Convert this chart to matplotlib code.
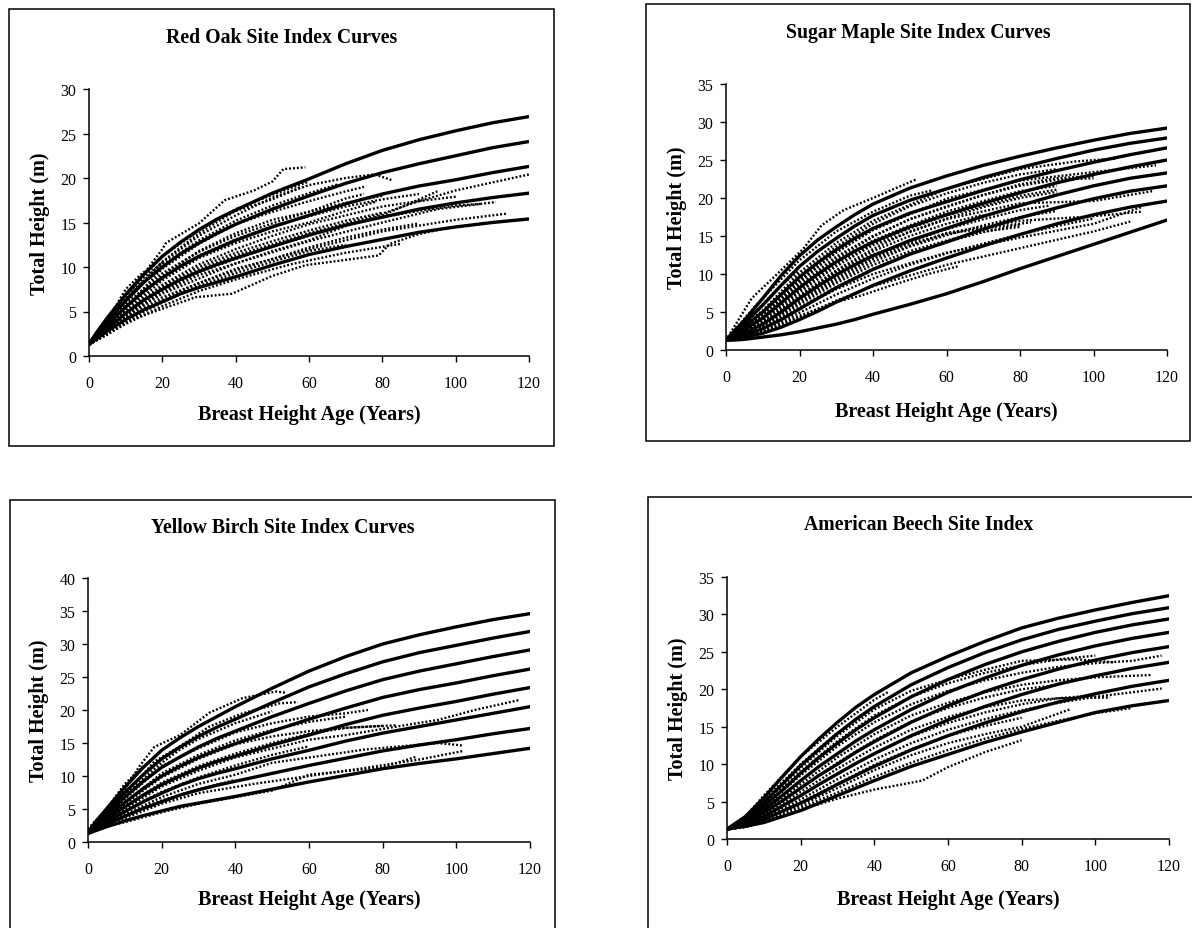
import matplotlib
matplotlib.use("Agg")
import matplotlib.pyplot as plt
from matplotlib.patches import Rectangle

plt.rcParams['font.family'] = ['Liberation Serif', 'DejaVu Serif']

W, H = 1192, 929

# ---------------- data ----------------
AGES = [0, 2, 5, 10, 15, 20, 25, 30, 35, 40, 50, 60, 70, 80, 90, 100, 110, 120]

# Red Oak site index curves (total height, m, at AGES)
ro_curves = [
    [1.3, 2.6, 4.3, 6.9, 9.2, 11.2, 12.8, 14.2, 15.4, 16.4, 18.3, 19.9, 21.6, 23.1, 24.3, 25.3, 26.2, 26.9],
    [1.3, 2.4, 3.9, 6.2, 8.3, 10.0, 11.5, 12.7, 13.8, 14.8, 16.5, 18.0, 19.4, 20.6, 21.6, 22.5, 23.4, 24.1],
    [1.3, 2.2, 3.5, 5.5, 7.3, 8.8, 10.1, 11.2, 12.1, 13.0, 14.5, 15.8, 17.1, 18.2, 19.1, 19.8, 20.6, 21.3],
    [1.3, 2.1, 3.1, 4.8, 6.3, 7.5, 8.6, 9.5, 10.3, 11.0, 12.3, 13.6, 14.7, 15.6, 16.5, 17.2, 17.8, 18.3],
    [1.3, 1.9, 2.8, 4.1, 5.2, 6.1, 7.0, 7.7, 8.3, 8.9, 10.2, 11.4, 12.3, 13.1, 13.9, 14.5, 15.0, 15.4],
]
# Sugar maple
sm_curves = [
    [1.3, 2.4, 3.9, 6.8, 9.8, 12.4, 14.5, 16.2, 17.8, 19.2, 21.3, 22.9, 24.3, 25.5, 26.6, 27.6, 28.5, 29.2],
    [1.3, 2.2, 3.5, 5.9, 8.5, 11.0, 13.0, 14.7, 16.3, 17.7, 19.7, 21.2, 22.7, 24.0, 25.2, 26.3, 27.2, 27.9],
    [1.3, 2.0, 3.1, 5.0, 7.3, 9.6, 11.5, 13.2, 14.7, 16.0, 18.0, 19.5, 21.0, 22.4, 23.6, 24.7, 25.7, 26.6],
    [1.3, 1.9, 2.7, 4.2, 6.2, 8.2, 10.0, 11.6, 13.0, 14.2, 16.2, 17.8, 19.3, 20.7, 22.0, 23.1, 24.1, 25.0],
    [1.3, 1.7, 2.3, 3.4, 5.0, 6.8, 8.4, 9.9, 11.2, 12.4, 14.4, 16.0, 17.6, 19.0, 20.4, 21.6, 22.6, 23.3],
    [1.3, 1.6, 2.0, 2.8, 4.0, 5.4, 6.8, 8.2, 9.4, 10.6, 12.6, 14.2, 15.9, 17.4, 18.7, 19.9, 20.9, 21.6],
    [1.3, 1.4, 1.7, 2.2, 3.0, 4.0, 5.1, 6.3, 7.4, 8.5, 10.4, 12.1, 13.7, 15.2, 16.6, 17.8, 18.8, 19.6],
    [1.3, 1.3, 1.4, 1.7, 2.0, 2.4, 2.9, 3.4, 4.0, 4.7, 6.0, 7.4, 9.0, 10.7, 12.3, 13.9, 15.5, 17.1],
]
# Yellow birch
yb_curves = [
    [1.3, 3.0, 5.0, 8.3, 11.3, 13.9, 15.8, 17.5, 19.0, 20.5, 23.3, 25.9, 28.1, 30.0, 31.4, 32.6, 33.7, 34.6],
    [1.3, 2.8, 4.6, 7.5, 10.2, 12.6, 14.4, 16.0, 17.4, 18.6, 21.1, 23.5, 25.5, 27.3, 28.7, 29.8, 30.9, 31.9],
    [1.3, 2.6, 4.2, 6.8, 9.2, 11.3, 12.9, 14.4, 15.7, 16.8, 19.0, 21.0, 22.9, 24.6, 25.9, 27.0, 28.1, 29.1],
    [1.3, 2.4, 3.8, 6.0, 8.1, 10.0, 11.5, 12.8, 13.9, 14.9, 16.8, 18.6, 20.3, 21.9, 23.1, 24.1, 25.2, 26.2],
    [1.3, 2.2, 3.4, 5.3, 7.1, 8.7, 10.0, 11.2, 12.2, 13.0, 14.7, 16.2, 17.8, 19.2, 20.3, 21.3, 22.4, 23.4],
    [1.3, 2.0, 3.0, 4.6, 6.1, 7.4, 8.6, 9.6, 10.4, 11.1, 12.6, 13.9, 15.3, 16.5, 17.5, 18.5, 19.5, 20.5],
    [1.3, 1.9, 2.7, 3.9, 5.1, 6.1, 7.1, 7.9, 8.6, 9.2, 10.4, 11.6, 12.7, 13.8, 14.7, 15.5, 16.4, 17.2],
    [1.3, 1.7, 2.3, 3.2, 4.0, 4.7, 5.4, 5.9, 6.4, 6.9, 8.0, 9.1, 10.1, 11.1, 11.9, 12.6, 13.4, 14.2],
]
# American beech
ab_curves = [
    [1.3, 2.0, 3.0, 5.5, 8.3, 11.0, 13.4, 15.6, 17.6, 19.3, 22.2, 24.4, 26.4, 28.2, 29.5, 30.6, 31.6, 32.5],
    [1.3, 1.9, 2.8, 4.9, 7.3, 9.8, 12.0, 14.1, 16.0, 17.7, 20.6, 22.9, 24.9, 26.6, 28.0, 29.1, 30.1, 30.9],
    [1.3, 1.8, 2.6, 4.4, 6.5, 8.8, 10.9, 12.8, 14.6, 16.2, 19.0, 21.3, 23.3, 25.0, 26.4, 27.6, 28.6, 29.4],
    [1.3, 1.8, 2.4, 3.9, 5.8, 7.8, 9.7, 11.4, 13.1, 14.6, 17.3, 19.6, 21.5, 23.2, 24.6, 25.8, 26.8, 27.6],
    [1.3, 1.7, 2.2, 3.5, 5.1, 6.8, 8.5, 10.0, 11.6, 13.0, 15.6, 17.8, 19.7, 21.3, 22.7, 23.9, 24.9, 25.7],
    [1.3, 1.6, 2.0, 3.0, 4.4, 5.8, 7.3, 8.7, 10.1, 11.4, 13.8, 15.9, 17.7, 19.3, 20.7, 21.8, 22.8, 23.6],
    [1.3, 1.5, 1.8, 2.6, 3.7, 4.8, 6.0, 7.3, 8.5, 9.7, 11.9, 13.8, 15.5, 17.0, 18.3, 19.4, 20.4, 21.2],
    [1.3, 1.5, 1.7, 2.2, 3.0, 3.8, 4.8, 5.8, 6.8, 7.8, 9.7, 11.3, 12.9, 14.3, 15.6, 16.9, 17.8, 18.5],
]

# observed stem-analysis profiles: (ages, heights)
ro_obs = [
    ([0, 10, 20, 21, 30, 37, 45, 50, 53, 59], [1.5, 6.5, 12.0, 12.7, 14.9, 17.5, 18.6, 19.6, 21.0, 21.2]),
    ([0, 10, 20, 30, 40, 50, 60, 70, 78, 83], [1.4, 6.0, 10.5, 13.5, 15.8, 17.8, 19.2, 20.0, 20.4, 19.7]),
    ([0, 10, 20, 30, 40, 50, 60, 70, 75], [1.3, 5.5, 9.8, 12.6, 14.8, 16.2, 17.4, 18.5, 19.0]),
    ([0, 10, 20, 30, 40, 50, 60, 70, 78], [1.3, 5.0, 8.5, 11.0, 12.7, 14.0, 15.0, 16.3, 17.3]),
    ([0, 10, 20, 30, 40, 60, 80, 90, 100, 110, 120], [1.3, 4.6, 7.6, 9.7, 11.3, 13.8, 16.0, 17.4, 18.6, 19.5, 20.4]),
    ([0, 10, 20, 40, 60, 80, 95, 111], [1.3, 4.4, 7.0, 10.4, 12.9, 15.0, 16.5, 17.3]),
    ([0, 10, 20, 40, 60, 80, 100, 114], [1.3, 4.2, 6.6, 9.8, 12.0, 14.0, 15.3, 16.0]),
    ([0, 5, 11, 20, 29, 39, 50, 59, 70, 79, 82, 90, 99], [1.3, 2.4, 4.0, 5.3, 6.6, 7.0, 9.0, 10.2, 10.8, 11.3, 12.6, 13.7, 14.5]),
    ([0, 10, 20, 30, 40, 55, 70, 85], [1.3, 3.6, 5.6, 7.3, 8.6, 10.3, 11.6, 12.6]),
    ([0, 10, 20, 30, 40, 50, 60, 70, 80, 95], [1.3, 4.3, 7.2, 9.1, 10.4, 11.8, 13.0, 14.6, 15.8, 18.5]),
    ([0, 10, 20, 30, 40, 50, 60, 70, 75], [1.3, 5.2, 9.0, 11.8, 13.8, 15.3, 16.2, 17.7, 18.2]),
    ([0, 8, 20, 30, 40, 50, 58], [1.5, 5.5, 10.6, 13.8, 16.3, 17.6, 19.0]),
    ([0, 10, 20, 30, 40, 50, 60, 70, 80], [1.3, 5.8, 9.3, 11.7, 13.5, 14.9, 16.2, 17.2, 18.0]),
    ([0, 10, 20, 30, 40, 50, 60, 70, 80, 90, 100], [1.3, 4.9, 8.0, 10.3, 12.0, 13.5, 14.8, 15.8, 16.8, 17.4, 17.9]),
    ([0, 10, 20, 30, 40, 50, 60, 70, 80, 90, 100, 107], [1.3, 4.5, 7.4, 9.4, 10.9, 12.3, 13.5, 14.7, 15.6, 16.3, 16.9, 17.1]),
    ([0, 10, 20, 30, 40, 50, 60, 70, 80, 90], [1.3, 4.0, 6.3, 8.2, 9.6, 10.9, 12.2, 13.3, 14.2, 14.9]),
    ([0, 10, 20, 30, 40, 50, 60], [1.3, 6.8, 11.2, 14.1, 16.5, 18.1, 19.6]),
    ([0, 10, 20, 30, 40, 50, 60, 68], [1.3, 6.3, 10.2, 13.0, 15.2, 16.9, 18.3, 19.3]),
    ([0, 10, 20, 30, 40, 50, 60, 70], [1.3, 3.9, 6.0, 7.9, 9.3, 10.6, 11.8, 12.5]),
    ([0, 10, 20, 30, 40, 50, 60, 70, 80, 90], [1.3, 5.4, 8.9, 11.3, 13.1, 14.6, 15.7, 16.8, 17.6, 18.2]),
    ([0, 10, 20, 30, 40, 50, 60, 70, 80], [1.3, 4.7, 7.8, 10.0, 11.6, 12.9, 14.1, 15.2, 16.1]),
    ([0, 5, 10, 15, 20], [1.3, 3.5, 6.2, 8.8, 10.5]),
    ([0, 5, 10, 15], [1.5, 4.0, 7.5, 9.5]),
]
sm_obs = [
    ([0, 7, 15, 21, 26, 32, 40, 52], [1.3, 6.8, 10.5, 13.3, 16.4, 18.4, 20.0, 22.5]),
    ([0, 8, 20, 30, 40, 50, 56], [1.3, 5.8, 11.8, 15.6, 18.2, 20.3, 21.0]),
    ([0, 10, 20, 30, 40, 60, 80, 95, 106], [1.3, 5.2, 10.2, 14.1, 17.0, 21.2, 23.8, 24.8, 25.2]),
    ([0, 10, 20, 30, 40, 60, 80, 100, 117], [1.3, 4.6, 9.2, 12.9, 15.8, 19.9, 22.3, 23.4, 24.3]),
    ([0, 10, 20, 30, 40, 60, 80, 100, 116], [1.3, 3.8, 7.6, 11.0, 13.8, 17.2, 19.3, 19.6, 20.9]),
    ([0, 10, 20, 30, 40, 60, 80, 100, 113], [1.3, 3.3, 6.6, 9.6, 12.0, 15.4, 17.0, 17.6, 18.2]),
    ([0, 10, 20, 30, 40, 60, 75, 83], [1.3, 3.6, 7.0, 10.2, 12.6, 15.3, 16.3, 16.8]),
    ([0, 10, 20, 30, 40, 60, 80, 100, 113], [1.3, 2.8, 5.5, 8.0, 10.0, 12.8, 14.8, 16.6, 18.8]),
    ([0, 10, 20, 30, 40, 60, 80, 100, 110], [1.3, 2.3, 4.3, 6.5, 8.4, 11.2, 13.4, 15.6, 16.9]),
    ([0, 10, 20, 30, 37, 45, 55, 63], [1.3, 2.5, 4.5, 6.3, 7.2, 8.5, 10.0, 11.0]),
    ([0, 10, 20, 30, 40, 50, 60, 70, 80, 90], [1.3, 4.0, 8.0, 11.6, 14.4, 16.4, 18.2, 19.6, 20.9, 21.6]),
    ([0, 10, 20, 30, 40, 50, 60, 70, 80], [1.3, 3.0, 6.0, 8.8, 11.2, 13.0, 14.4, 15.6, 16.2]),
    ([0, 10, 20, 30, 40, 50, 60, 70, 80, 90, 100], [1.3, 4.3, 8.6, 12.3, 15.0, 17.2, 18.8, 20.4, 21.8, 22.6, 22.9]),
    ([0, 10, 20, 30, 40, 50, 60, 70, 80, 90], [1.3, 4.8, 9.8, 13.6, 16.6, 18.9, 20.6, 22.0, 23.1, 23.8]),
    ([0, 10, 20, 30, 40, 50, 60, 70, 80, 90, 100], [1.3, 4.2, 8.4, 12.0, 14.9, 17.2, 18.9, 20.4, 21.6, 22.4, 22.6]),
    ([0, 10, 20, 30, 40, 50, 60, 70, 80, 90], [1.3, 3.6, 7.2, 10.5, 13.3, 15.6, 17.3, 18.8, 20.0, 20.8]),
    ([0, 10, 20, 30, 40, 50, 60, 70, 80, 88], [1.3, 3.2, 6.4, 9.4, 12.0, 14.2, 15.9, 17.2, 18.4, 19.0]),
    ([0, 10, 20, 30, 40, 50, 60, 70, 80], [1.3, 2.8, 5.6, 8.3, 10.7, 12.7, 14.2, 15.5, 16.5]),
    ([0, 10, 20, 30, 40, 50, 60, 70, 80, 90, 100], [1.3, 2.5, 4.9, 7.3, 9.4, 11.2, 12.7, 14.0, 15.2, 16.3, 17.3]),
    ([0, 10, 20, 30, 40, 50, 60, 70], [1.3, 3.4, 7.0, 10.4, 13.0, 15.0, 16.6, 17.8]),
    ([0, 10, 20, 30, 40, 50, 60], [1.3, 4.4, 9.0, 12.8, 15.8, 18.0, 19.7]),
    ([0, 10, 20, 30, 40, 50, 60, 70, 80, 90], [1.3, 3.9, 7.8, 11.3, 14.0, 16.0, 17.7, 19.0, 20.3, 21.1]),
    ([0, 10, 20, 30, 40, 50, 60, 70, 80, 90], [1.3, 3.1, 6.2, 9.1, 11.6, 13.6, 15.1, 16.4, 17.5, 18.3]),
    ([0, 5, 10, 15, 20], [1.3, 3.5, 6.0, 8.5, 10.5]),
    ([0, 5, 10, 15, 20, 25], [1.3, 2.8, 4.6, 6.8, 9.0, 11.0]),
]
yb_obs = [
    ([0, 5, 10, 14, 18, 25, 33, 42, 51, 54], [1.8, 4.5, 8.0, 11.5, 14.4, 16.2, 19.6, 21.8, 22.8, 22.6]),
    ([0, 6, 10, 18, 25, 33, 42, 52, 57], [1.8, 4.5, 7.0, 12.2, 14.5, 17.5, 19.5, 21.0, 21.2]),
    ([0, 8, 15, 20, 30, 40, 50, 60, 70, 76], [1.8, 5.5, 9.0, 11.5, 14.2, 16.6, 18.0, 19.0, 19.5, 20.0]),
    ([0, 8, 15, 20, 30, 40, 50, 60, 70, 84], [1.8, 4.8, 7.8, 9.8, 12.6, 14.8, 16.0, 16.8, 17.3, 17.7]),
    ([0, 10, 20, 30, 40, 60, 70, 85, 95, 105, 117], [1.8, 5.0, 8.4, 10.8, 12.8, 15.5, 16.2, 17.6, 18.5, 20.0, 21.5]),
    ([0, 10, 20, 30, 40, 50, 60, 75, 85, 95, 102], [1.8, 4.2, 6.8, 8.8, 10.2, 12.0, 12.8, 14.0, 14.5, 15.0, 14.6]),
    ([0, 10, 20, 30, 45, 60, 75, 90, 102], [1.8, 3.6, 5.8, 7.4, 8.8, 10.0, 11.2, 12.5, 13.8]),
    ([0, 10, 20, 30, 40, 50, 60, 80, 89], [1.8, 3.0, 4.5, 5.8, 6.8, 7.8, 10.2, 11.3, 12.9]),
    ([0, 5, 10, 15, 20, 25, 30, 40, 50], [1.8, 4.0, 6.8, 9.6, 12.0, 14.0, 15.6, 18.0, 19.8]),
    ([0, 5, 10, 15, 20, 30, 40, 50, 60, 70], [1.8, 3.6, 6.0, 8.2, 10.4, 13.2, 15.4, 17.0, 18.2, 19.0]),
    ([0, 5, 10, 15, 20, 30, 40, 50, 60, 70, 80], [1.8, 3.2, 5.2, 7.2, 9.0, 11.5, 13.4, 15.0, 16.4, 17.3, 17.6]),
    ([0, 5, 10, 15, 20, 30, 40, 50, 60], [1.8, 3.0, 4.6, 6.2, 7.6, 9.8, 11.6, 13.2, 14.5]),
    ([0, 5, 10, 15, 20, 30, 40], [1.8, 2.8, 4.0, 5.2, 6.3, 8.0, 9.4]),
    ([0, 5, 10, 15], [2.0, 5.0, 8.8, 11.5]),
]
ab_obs = [
    ([0, 5, 10, 20, 30, 40, 50, 60, 70, 80, 95, 105], [1.3, 2.5, 4.8, 9.5, 13.8, 17.3, 19.8, 21.3, 22.6, 23.8, 24.0, 23.6]),
    ([0, 5, 10, 20, 30, 40, 50, 60, 70, 80, 90, 100, 110, 118], [1.3, 2.3, 4.2, 8.5, 12.4, 15.6, 18.0, 19.8, 21.2, 22.2, 23.0, 23.5, 23.8, 24.5]),
    ([0, 5, 10, 20, 30, 40, 50, 60, 70, 80, 90, 100, 115], [1.3, 2.1, 3.6, 7.3, 10.9, 14.0, 16.5, 18.2, 19.6, 20.6, 21.2, 21.6, 21.9]),
    ([0, 5, 10, 20, 30, 40, 50, 60, 70, 80, 90, 104], [1.3, 1.9, 3.1, 6.3, 9.4, 12.2, 14.6, 16.3, 17.6, 18.5, 18.8, 18.9]),
    ([0, 5, 10, 20, 30, 40, 50, 60, 70, 80, 90, 100, 110, 118], [1.3, 1.8, 2.7, 5.3, 8.0, 10.6, 12.8, 14.6, 16.0, 17.2, 18.2, 19.0, 19.6, 20.1]),
    ([0, 5, 10, 20, 30, 40, 50, 60, 70, 80, 93], [1.3, 1.7, 2.4, 4.5, 6.8, 9.2, 11.2, 12.8, 14.0, 15.0, 17.3]),
    ([0, 5, 10, 20, 30, 40, 53, 60, 70, 80], [1.3, 1.6, 2.2, 3.9, 5.4, 6.6, 7.8, 9.6, 11.6, 13.2]),
    ([0, 5, 10, 20, 30, 40, 44], [1.3, 3.0, 5.8, 11.0, 15.0, 18.6, 19.7]),
    ([0, 5, 10, 20, 30, 40, 50, 60, 70, 80, 90, 100], [1.3, 2.4, 4.5, 9.0, 13.1, 16.5, 19.0, 20.8, 22.2, 23.2, 24.0, 24.5]),
    ([0, 5, 10, 20, 30, 40, 50, 60, 70, 80, 90], [1.3, 2.0, 3.3, 6.8, 10.2, 13.2, 15.7, 17.5, 18.9, 20.0, 20.6]),
    ([0, 5, 10, 20, 30, 40, 50, 60, 70, 80, 90, 100], [1.3, 1.8, 2.9, 5.8, 8.7, 11.4, 13.7, 15.5, 16.9, 18.0, 18.8, 19.2]),
    ([0, 5, 10, 20, 30, 40, 50, 60, 70, 80], [1.3, 1.7, 2.5, 4.9, 7.4, 9.9, 12.0, 13.8, 15.1, 16.2]),
    ([0, 5, 10, 20, 30, 40, 50, 60, 70, 80, 90, 100, 110], [1.3, 1.6, 2.3, 4.2, 6.2, 8.3, 10.2, 11.9, 13.4, 14.7, 15.8, 16.8, 17.5]),
    ([0, 5, 10, 20, 30], [1.3, 2.8, 5.2, 10.0, 14.2]),
]

panels = [
    dict(title="Red Oak Site Index Curves", curves=ro_curves, obs=ro_obs, ymax=30,
         frame=(9, 10, 554, 447), ax=(89, 90, 529, 357), title_y=38, xlab_y=415),
    dict(title="Sugar Maple Site Index Curves", curves=sm_curves, obs=sm_obs, ymax=35,
         frame=(646, 5, 1190, 442), ax=(726, 85, 1167, 351), title_y=33, xlab_y=412),
    dict(title="Yellow Birch Site Index Curves", curves=yb_curves, obs=yb_obs, ymax=40,
         frame=(10, 501, 555, 945), ax=(88, 579, 530, 843), title_y=528, xlab_y=900),
    dict(title="American Beech Site Index", curves=ab_curves, obs=ab_obs, ymax=35,
         frame=(648, 498, 1205, 945), ax=(727, 578, 1169, 840), title_y=525, xlab_y=900),
]

fig = plt.figure(figsize=(W / 100, H / 100), dpi=100)

for p in panels:
    fx0, fy0, fx1, fy1 = p["frame"]
    fig.add_artist(Rectangle((fx0 / W, 1 - fy1 / H), (fx1 - fx0) / W, (fy1 - fy0) / H,
                             transform=fig.transFigure, fill=False, lw=1.1, ec="black",
                             clip_on=False))
    tx = (fx0 + min(fx1, 1190)) / 2 / W
    fig.text(tx, 1 - p["title_y"] / H, p["title"], ha="center", va="center",
             fontsize=14.2, fontweight="bold")

    ax0, ay0, ax1, ay1 = p["ax"]
    ax = fig.add_axes([ax0 / W, 1 - ay1 / H, (ax1 - ax0) / W, (ay1 - ay0) / H])
    for ages, hts in p["obs"]:
        ax.plot(ages, hts, color="black", lw=1.7, linestyle=(0, (0.8, 0.85)),
                dash_capstyle="butt", zorder=2)
    for c in p["curves"]:
        ax.plot(AGES, c, color="black", lw=2.4, solid_capstyle="round",
                solid_joinstyle="round", zorder=3)

    ax.set_xlim(0, 120)
    ax.set_ylim(0, p["ymax"])
    ax.set_xticks(range(0, 121, 20))
    ax.set_yticks(range(0, p["ymax"] + 1, 5))
    for s in ("top", "right"):
        ax.spines[s].set_visible(False)
    for s in ("left", "bottom"):
        ax.spines[s].set_linewidth(1.1)
    ax.tick_params(axis="x", direction="out", length=4, width=1, pad=10, labelsize=11.5)
    ax.tick_params(axis="y", direction="out", length=4, width=1, pad=5, labelsize=11.5)
    ax.set_xlabel("Breast Height Age (Years)", fontsize=14.5, fontweight="bold")
    ax.xaxis.label.set_va("center")
    ax.xaxis.set_label_coords(0.5, -(p["xlab_y"] - ay1) / (ay1 - ay0))
    ax.set_ylabel("Total Height (m)", fontsize=14.5, fontweight="bold")
    ax.yaxis.label.set_va("center")
    ax.yaxis.set_label_coords(-49 / (ax1 - ax0), 0.5)
    ax.patch.set_alpha(0)

fig.savefig("out.png", dpi=100)
